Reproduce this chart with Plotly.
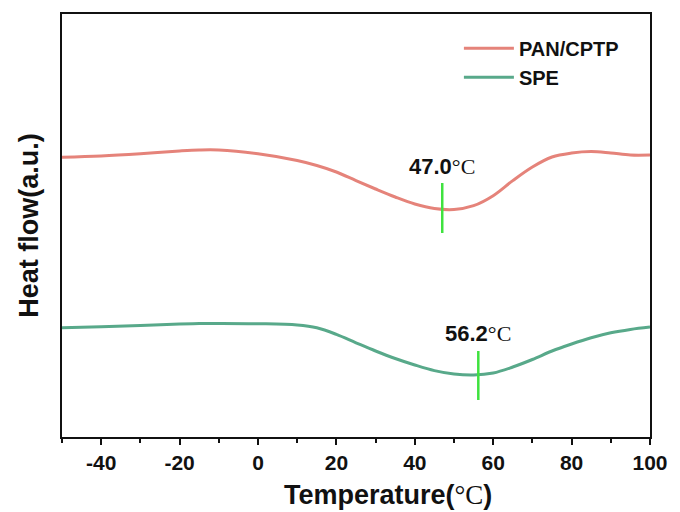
import plotly.graph_objects as go

temperature = [-50, -40, -30, -20, -15, -10, 0, 10, 15, 20, 25, 30, 35, 40, 45, 50,
               55, 60, 65, 70, 75, 80, 85, 90, 95, 100]
# heat flow in arbitrary units
pan_cptp = [279.8, 281.0, 283.2, 286.0, 287.0, 287.0, 283.2, 276.5, 271.5, 265.0, 256.4,
            248.0, 240.0, 233.0, 228.5, 227.5, 231.3, 241.3, 256.4, 270.0, 280.0, 284.0,
            285.5, 284.0, 282.0, 282.0]
spe = [109.2, 110.2, 111.6, 113.0, 113.4, 113.6, 113.3, 112.0, 109.2, 102.6, 94.2, 86.0,
       78.5, 72.0, 66.4, 63.0, 62.0, 64.0, 70.0, 77.5, 86.0, 93.0, 99.2, 104.2, 107.6, 110.0]

peak_temps = [47.0, 56.2]
peak_labels = ["47.0", "56.2"]
peak_marker_y = [[204, 254], [37, 86]]
label_y = [271, 104]

tick_vals = [-40, -20, 0, 20, 40, 60, 80, 100]
tick_text = ["-40", "-20", "0", "20", "40", "60", "80", "100"]

red = "#e5837a"
green = "#58a98a"
SERIF_C = "<span style=\"font-family:Liberation Serif;font-weight:normal\">°C</span>"

fig = go.Figure()
fig.add_trace(go.Scatter(x=temperature, y=pan_cptp, mode="lines", name="PAN/CPTP",
                         line=dict(color=red, width=3, shape="spline", smoothing=1.0)))
fig.add_trace(go.Scatter(x=temperature, y=spe, mode="lines", name="SPE",
                         line=dict(color=green, width=3, shape="spline", smoothing=1.0)))

for t, ys in zip(peak_temps, peak_marker_y):
    fig.add_trace(go.Scatter(x=[t, t], y=ys, mode="lines", showlegend=False,
                             line=dict(color="#3fe23f", width=2.5), hoverinfo="skip"))

for t, lab, ly in zip(peak_temps, peak_labels, label_y):
    fig.add_annotation(x=t, y=ly, text=lab + SERIF_C,
                       showarrow=False, yanchor="middle", xanchor="center",
                       font=dict(family="Liberation Sans", size=22, color="#111", weight="bold"))

# x-axis title (placed slightly right of centre, as in the reference)
fig.add_annotation(x=0.555, y=-0.137, xref="paper", yref="paper",
                   text="<b>Temperature(</b>" + SERIF_C + "<b>)</b>",
                   showarrow=False, xanchor="center", yanchor="middle",
                   font=dict(family="Liberation Sans", size=27, color="#111"))

fig.update_layout(
    width=680, height=512,
    margin=dict(l=62, r=23, t=14, b=75),
    paper_bgcolor="white", plot_bgcolor="white",
    font=dict(family="Liberation Sans", color="#111"),
    legend=dict(x=0.675, y=0.965, xanchor="left", yanchor="top",
                font=dict(size=20, family="Liberation Sans", weight="bold"),
                bgcolor="rgba(0,0,0,0)", tracegroupgap=0, itemwidth=50),
    xaxis=dict(range=[-50, 100], tickvals=tick_vals,
               ticktext=["<b>" + s + "</b>" for s in tick_text],
               ticks="outside", ticklen=6, tickwidth=2, tickcolor="#111",
               minor=dict(tickvals=[-50, -30, -10, 10, 30, 50, 70, 90], ticks="outside",
                          ticklen=4, tickwidth=2, tickcolor="#111"),
               showline=True, linewidth=2, linecolor="#111", mirror=True,
               showgrid=False, zeroline=False,
               tickfont=dict(size=21, family="Arial", weight="bold", color="#111")),
    yaxis=dict(range=[0, 423], showticklabels=False, ticks="",
               showline=True, linewidth=2, linecolor="#111", mirror=True,
               showgrid=False, zeroline=False,
               title=dict(text="<b>Heat flow(a.u.)</b>", font=dict(size=27), standoff=14)),
)

fig.write_html("out.html")
